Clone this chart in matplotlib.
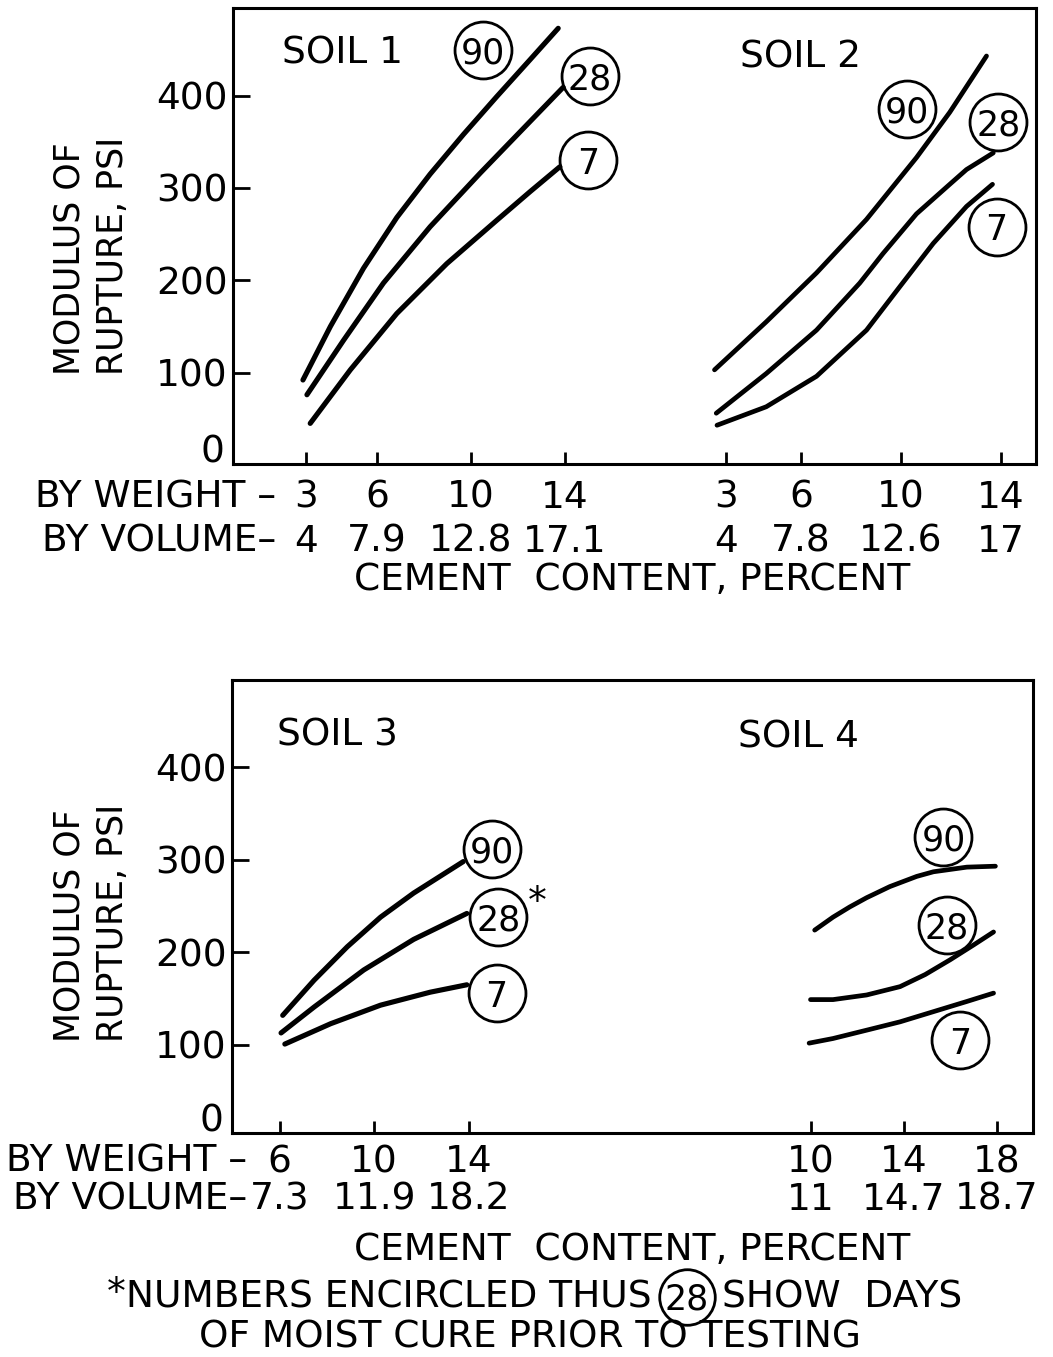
import numpy as np
import matplotlib.pyplot as plt

plt.rcParams['font.family'] = ['DejaVu Sans']

W, H = 1053, 1357
FS = 27

# ---- curves: cement content by weight (%) vs modulus of rupture (psi)
s1_w90 = [2.85, 4.02, 5.43, 6.85, 8.27, 9.69, 11.11, 12.53, 13.73]
s1_p90 = [92, 150, 213, 268, 315, 358, 399, 439, 473]
s1_w28 = [3.02, 4.58, 6.28, 8.27, 10.40, 12.53, 13.94]
s1_p28 = [76, 135, 197, 258, 316, 372, 409]
s1_w7 = [3.16, 4.87, 6.85, 8.98, 11.11, 12.53, 13.80]
s1_p7 = [45, 103, 164, 218, 265, 296, 323]

s2_w90 = [2.54, 4.61, 6.62, 8.62, 10.62, 11.95, 13.42]
s2_p90 = [103, 155, 208, 266, 333, 382, 443]
s2_w28 = [2.61, 4.61, 6.62, 8.35, 9.28, 10.62, 11.95, 12.62, 13.69]
s2_p28 = [56, 99, 146, 197, 229, 272, 304, 320, 338]
s2_w7 = [2.64, 4.61, 6.62, 8.62, 9.95, 11.29, 12.62, 13.66]
s2_p7 = [43, 63, 96, 146, 193, 240, 280, 304]

s3_w90 = [6.13, 7.46, 8.86, 10.27, 11.67, 13.77]
s3_p90 = [132, 170, 206, 238, 264, 298]
s3_w28 = [6.06, 7.46, 9.56, 11.67, 13.92]
s3_p28 = [113, 141, 181, 214, 242]
s3_w7 = [6.22, 8.16, 10.27, 12.37, 13.92]
s3_p7 = [101, 123, 143, 157, 165]

s4_w90 = [10.15, 10.94, 11.66, 12.39, 13.39, 14.55, 15.27, 16.71, 17.94]
s4_p90 = [224, 238, 249, 259, 271, 282, 287, 292, 293]
s4_w28 = [9.97, 10.94, 12.39, 13.83, 14.91, 15.99, 17.00, 17.86]
s4_p28 = [149, 149, 154, 163, 176, 192, 208, 222]
s4_w7 = [9.91, 10.94, 12.39, 13.83, 15.27, 16.71, 17.86]
s4_p7 = [102, 107, 116, 125, 136, 147, 156]

# where the encircled curing-age labels sit (weight %, psi)
s1_lab_w = [10.54, 15.08, 15.01]
s1_lab_p = [450, 421, 330]
s2_lab_w = [10.24, 13.89, 13.82]
s2_lab_p = [386, 372, 258]
s3_lab_w = [14.97, 15.25, 15.18]
s3_lab_p = [312, 238, 156]
s4_lab_w = [15.70, 15.85, 16.42]
s4_lab_p = [325, 229, 105]
ages = ['90', '28', '7']

# tick labels
s1_wt, s1_vol = [3, 6, 10, 14], ['4', '7.9', '12.8', '17.1']
s2_wt, s2_vol = [3, 6, 10, 14], ['4', '7.8', '12.6', '17']
s3_wt, s3_vol = [6, 10, 14], ['7.3', '11.9', '18.2']
s4_wt, s4_vol = [10, 14, 18], ['11', '14.7', '18.7']
y_ticks = [100, 200, 300, 400]


def box(left, top, right, bottom):
    return [left / W, 1 - bottom / H, (right - left) / W, (bottom - top) / H]


fig = plt.figure(figsize=(W / 100, H / 100), dpi=100)

panels = [
    dict(frame=(233, 8, 1036, 464), ylim=(1, 495), pad=11.5, ls=1.27),
    dict(frame=(232, 680, 1033, 1133), ylim=(5, 494), pad=8, ls=1.05),
]
soils = [
    dict(panel=0, xlim=(2, 15), span=(283, 588), wt=s1_wt, vol=s1_vol,
         curves=[(s1_w90, s1_p90), (s1_w28, s1_p28), (s1_w7, s1_p7)],
         lab=(s1_lab_w, s1_lab_p), lw=3.7),
    dict(panel=0, xlim=(2, 15), span=(701, 1026), wt=s2_wt, vol=s2_vol,
         curves=[(s2_w90, s2_p90), (s2_w28, s2_p28), (s2_w7, s2_p7)],
         lab=(s2_lab_w, s2_lab_p), lw=3.4),
    dict(panel=1, xlim=(5, 16), span=(256, 516), wt=s3_wt, vol=s3_vol,
         curves=[(s3_w90, s3_p90), (s3_w28, s3_p28), (s3_w7, s3_p7)],
         lab=(s3_lab_w, s3_lab_p), lw=3.7),
    dict(panel=1, xlim=(9, 19), span=(788, 1020), wt=s4_wt, vol=s4_vol,
         curves=[(s4_w90, s4_p90), (s4_w28, s4_p28), (s4_w7, s4_p7)],
         lab=(s4_lab_w, s4_lab_p), lw=3.4),
]

for pn in panels:
    l, t, r, b = pn['frame']
    ax = fig.add_axes(box(l, t, r, b))
    ax.set_ylim(*pn['ylim'])
    ax.set_xticks([])
    ax.set_yticks(y_ticks)
    ax.tick_params(axis='y', direction='in', length=12, width=2,
                   labelsize=FS, pad=4)
    for sp in ax.spines.values():
        sp.set_linewidth(2.2)
    ax.annotate('0', (0, 0), xycoords='axes fraction', xytext=(-6, 1),
                textcoords='offset points', ha='right', va='baseline',
                fontsize=FS)

for s in soils:
    pn = panels[s['panel']]
    l, t, r, b = pn['frame']
    ax = fig.add_axes(box(s['span'][0], t, s['span'][1], b))
    ax.patch.set_visible(False)
    for sp in ax.spines.values():
        sp.set_visible(False)
    ax.set_xlim(*s['xlim'])
    ax.set_ylim(*pn['ylim'])
    ax.tick_params(axis='y', left=False, labelleft=False)
    labels = ['%d\n%s' % (w, v) for w, v in zip(s['wt'], s['vol'])]
    ax.set_xticks(s['wt'], labels, fontsize=FS, linespacing=pn['ls'])
    ax.tick_params(axis='x', direction='in', length=9, width=2,
                   pad=pn['pad'])
    for w, p in s['curves']:
        ax.plot(w, p, color='black', lw=s['lw'], solid_capstyle='round',
                clip_on=False, zorder=3)
    lw_, lp_ = s['lab']
    ax.plot(lw_, lp_, 'o', ms=41, mfc='white', mec='black', mew=2,
            clip_on=False, zorder=2)
    for a, x, y in zip(ages, lw_, lp_):
        ax.annotate(a, (x, y), xytext=(0, -2.5), textcoords='offset points',
                    ha='center', va='center', fontsize=25, zorder=4,
                    annotation_clip=False)

# captions and notes, placed in figure pixels
lay = fig.add_axes([0, 0, 1, 1])
lay.set_xlim(0, W)
lay.set_ylim(H, 0)
lay.axis('off')

for txt, x, y in [('SOIL 1', 282, 63), ('SOIL 2', 740, 67),
                  ('SOIL 3', 277, 745), ('SOIL 4', 738, 748)]:
    lay.text(x, y, txt, ha='left', va='baseline', fontsize=FS)

for y in (375, 1042):
    lay.text(91, y, 'MODULUS OF\nRUPTURE, PSI', rotation=90, ha='center',
             va='bottom', multialignment='left', fontsize=25, linespacing=1.35)

lay.text(276, 480, 'BY WEIGHT \u2013\nBY VOLUME\u2013', ha='right', va='top',
         multialignment='right', fontsize=FS, linespacing=panels[0]['ls'])
lay.text(247, 1144, 'BY WEIGHT \u2013\nBY VOLUME\u2013', ha='right', va='top',
         multialignment='right', fontsize=FS, linespacing=panels[1]['ls'])

lay.text(632, 590, 'CEMENT  CONTENT, PERCENT', ha='center', va='baseline',
         fontsize=FS)
lay.text(632, 1260, 'CEMENT  CONTENT, PERCENT', ha='center', va='baseline',
         fontsize=FS)

lay.text(537, 913, '*', ha='center', va='baseline', fontsize=FS)

# footnote
lay.text(126, 1304, '*', ha='right', va='baseline', fontsize=FS)
lay.text(652, 1308, 'NUMBERS ENCIRCLED THUS', ha='right', va='baseline',
         fontsize=FS)
lay.plot([687], [1297], 'o', ms=40, mfc='white', mec='black', mew=2)
lay.text(687, 1299, '28', ha='center', va='center', fontsize=25)
lay.text(722, 1308, 'SHOW  DAYS', ha='left', va='baseline', fontsize=FS)
lay.text(530, 1347, 'OF MOIST CURE PRIOR TO TESTING', ha='center',
         va='baseline', fontsize=FS)

fig.savefig('out.png', dpi=100)
